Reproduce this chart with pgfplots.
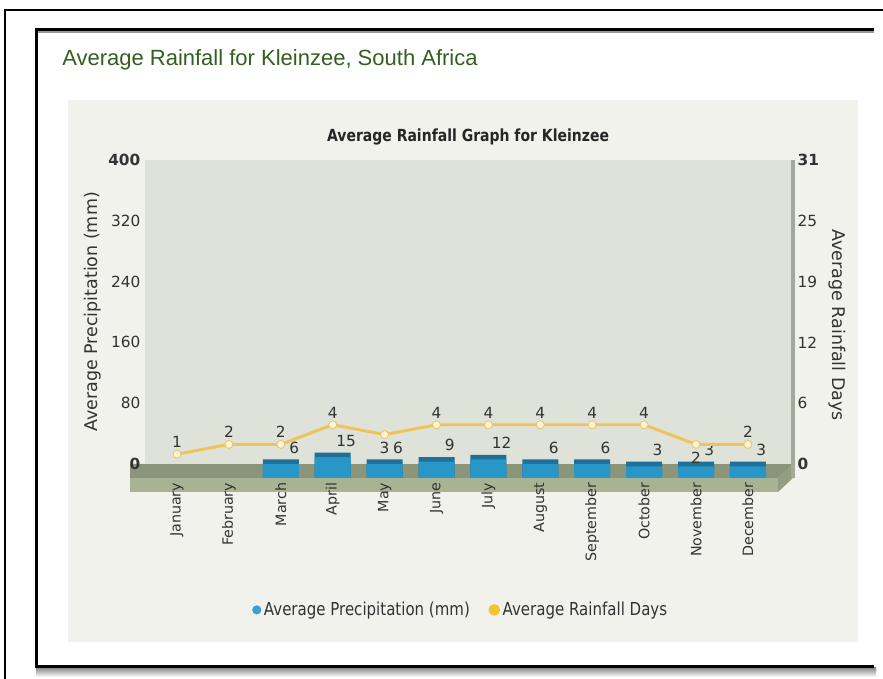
\documentclass[border=0pt]{standalone}
\usepackage{fontspec}
\setmainfont{DejaVu Sans}
\newfontfamily\narrowf{DejaVu Sans}[FakeStretch=0.84]
\newfontfamily\arialf{Liberation Sans}
\usepackage{pgfplots}
\pgfplotsset{compat=1.18}
\usepackage{pgfplotstable}

\definecolor{panelbg}{HTML}{F1F2EC}
\definecolor{plotbg}{HTML}{DEE2D9}
\definecolor{floortop}{HTML}{8A957A}
\definecolor{floorfront}{HTML}{A9B393}
\definecolor{floorside}{HTML}{939E80}
\definecolor{barblue}{HTML}{2896C6}
\definecolor{bartop}{HTML}{1F7099}
\definecolor{lineyel}{HTML}{EEC35A}
\definecolor{markfill}{HTML}{FFF4CF}
\definecolor{legblue}{HTML}{3E9ED2}
\definecolor{legyel}{HTML}{F2C430}
\definecolor{titlegreen}{HTML}{33601F}
\definecolor{txt}{HTML}{333333}
\definecolor{wallside}{HTML}{A3AA9C}

\pgfplotstableread{
idx month mm days dpos
0 January 0 1 1
1 February 0 2 1
2 March 6 2 1
3 April 15 4 1
4 May 6 3 -1
5 June 9 4 1
6 July 12 4 1
7 August 6 4 1
8 September 6 4 1
9 October 3 4 1
10 November 3 2 -1
11 December 3 2 1
}\rain

\begin{document}
\begin{tikzpicture}
\begin{scope}[yshift=509.25pt, x=0.75pt, y=-0.75pt]
\path[use as bounding box, fill=white] (0,0) rectangle (883,679);
% outer frame lines
\draw[black, line width=1.5pt] (5,679) -- (5,10) -- (883,10);
% inner frame
\shade[top color=black!45, bottom color=white] (36,668) rectangle (876,677);
\fill[black!40] (36,31) rectangle (874,33.5);
\draw[black, line width=2.25pt] (874,30) -- (36,30) -- (36,667) -- (874,667);
% panel
\fill[panelbg] (68,100) rectangle (858,642);
% page title
\node[anchor=base west, text=titlegreen, font=\arialf\fontsize{16.5}{19}\selectfont, inner sep=0pt] at (62,66) {Average Rainfall for Kleinzee, South Africa};
% floor
\fill[floortop] (130,464) -- (793,464) -- (778,478) -- (130,478) -- cycle;
\fill[floorfront] (130,478) rectangle (778,492);
\fill[floorside] (778,478) -- (793,464) -- (793,478) -- (778,492) -- cycle;
\end{scope}

% main axis (left scale, background, months)
\begin{axis}[
  at={(108.75pt,161.25pt)}, anchor=south west,
  scale only axis, width=486pt, height=228pt,
  xmin=-0.6166, xmax=11.869, ymin=0, ymax=400,
  /pgf/number format/assume math mode=true,
  axis line style={draw=none},
  tick style={draw=none},
  axis background/.style={fill=plotbg},
  xtick={0,...,11},
  xticklabels={January,February,March,April,May,June,July,August,September,October,November,December},
  xticklabel style={rotate=90, anchor=east, font=\fontsize{10.7}{12}\selectfont, text=txt},
  xticklabel shift=10.5pt,
  ytick={0,80,160,240,320,400},
  yticklabels={\textbf{0},80,160,240,320,\textbf{400}},
  yticklabel style={font=\fontsize{11.5}{13}\selectfont, text=txt},
  ylabel={Average Precipitation (mm)},
  every axis y label/.style={at={(axis description cs:-0.0802,0.5)}, anchor=center, rotate=90, font=\fontsize{13.1}{15}\selectfont, text=txt},
  title={Average Rainfall Graph for Kleinzee},
  every axis title/.style={at={(axis description cs:0.4985,1.0757)}, anchor=center, font=\narrowf\bfseries\fontsize{12.5}{14}\selectfont, text=black!85},
]
\end{axis}

\begin{scope}[yshift=509.25pt, x=0.75pt, y=-0.75pt]
\fill[wallside] (791,160) rectangle (795,478);
\end{scope}

% bars (3D floor offset)
\begin{axis}[
  at={(108.75pt,150.75pt)}, anchor=south west,
  scale only axis, width=486pt, height=238.5pt,
  xmin=-0.6166, xmax=11.869, ymin=0, ymax=418.42,
  /pgf/number format/assume math mode=true,
  hide axis,
  ybar, bar width=27pt,
]
\addplot[fill=bartop, draw=none, bar shift=0pt, restrict y to domain=18.5:1000,
  nodes near coords, point meta=explicit,
  every node near coord/.append style={font=\fontsize{11.5}{13}\selectfont, text=txt, xshift=10pt, yshift=1pt}]
  table[x=idx, y expr=\thisrow{mm}+18.42, meta=mm]{\rain};
\addplot[fill=barblue, draw=none, bar shift=0pt, restrict y to domain=12.5:1000]
  table[x=idx, y expr=\thisrow{mm}+12.42]{\rain};
\end{axis}

% right axis and line
\begin{axis}[
  at={(108.75pt,161.25pt)}, anchor=south west,
  scale only axis, width=486pt, height=228pt,
  xmin=-0.6166, xmax=11.869, ymin=0, ymax=31,
  /pgf/number format/assume math mode=true,
  hide x axis,
  axis y line*=right,
  y axis line style={draw=none},
  tick style={draw=none},
  ytick={0,6.2,12.4,18.6,24.8,31},
  yticklabels={\textbf{0},6,12,19,25,\textbf{31}},
  yticklabel style={font=\fontsize{11.5}{13}\selectfont, text=txt},
  ylabel={Average Rainfall Days},
  every axis y label/.style={at={(axis description cs:1.068,0.457)}, anchor=center, rotate=-90, font=\fontsize{13.1}{15}\selectfont, text=txt},
  legend style={at={(axis description cs:0.4877,-0.480)}, anchor=center, draw=none, fill=none,
    legend columns=2, font=\narrowf\fontsize{13.4}{15}\selectfont, text=txt,
    /tikz/every even column/.append style={column sep=12pt}},
]
\addlegendimage{legend image code/.code={\fill[legblue] (0pt,0pt) circle (3.2pt);}}
\addlegendentry{Average Precipitation (mm)}
\addplot[lineyel, line width=2.2pt, mark=*, mark size=3pt,
  mark options={fill=markfill, draw=lineyel, line width=0.6pt},
  nodes near coords, point meta=explicit,
  visualization depends on={\thisrow{dpos} \as \dpos},
  every node near coord/.append style={font=\fontsize{11.5}{13}\selectfont, text=txt, yshift={(9.5*\dpos-8.3)*1pt}},
  legend image code/.code={\fill[legyel] (0pt,0pt) circle (3.2pt);}]
  table[x=idx, y=days, meta=days]{\rain};
\addlegendentry{Average Rainfall Days}
\end{axis}
\end{tikzpicture}
\end{document}
